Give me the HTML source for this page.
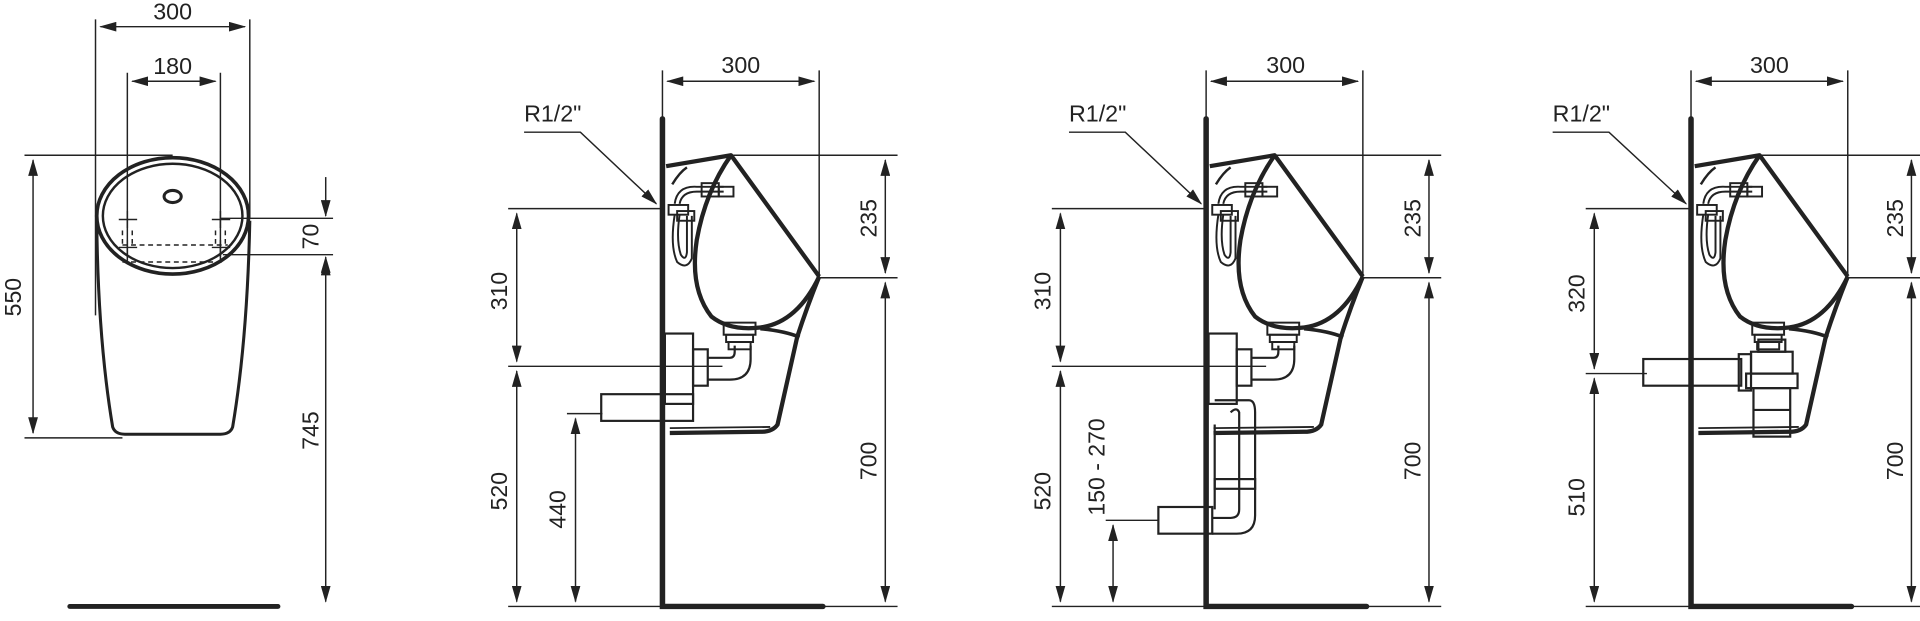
<!DOCTYPE html>
<html><head><meta charset="utf-8"><style>
html,body{margin:0;padding:0;background:#fff;width:1920px;height:621px;overflow:hidden}
svg{display:block}
text{font-family:"Liberation Sans",Arial,sans-serif;font-size:19px;fill:#222}
</style></head><body>
<svg width="1920" height="621" viewBox="0 0 1568 512" preserveAspectRatio="none" xmlns="http://www.w3.org/2000/svg">
<defs>
<marker id="a" markerWidth="14" markerHeight="8" refX="13" refY="4" orient="auto-start-reverse" markerUnits="userSpaceOnUse"><path d="M0,0 L14,4 L0,8 z" fill="#222"/></marker>
<g id="uri">
  <!-- urinal side view, wall at x=0 -->
  <path d="M3,9 L56,0 L128,100" fill="none" stroke="#222" stroke-width="3.5" stroke-linejoin="round"/>
  <path d="M56,0 Q35,30 28,70 Q22,110 40,133 Q55,145 80,142 Q110,138 128,100" fill="none" stroke="#222" stroke-width="3.5"/>
  <path d="M128,100 Q118,125 110,150 L94,222 Q90,228 80,228 L6,229" fill="none" stroke="#222" stroke-width="3.5"/>
  <path d="M80,143 Q100,145 112,150" fill="none" stroke="#222" stroke-width="3"/>
  <path d="M6,225 L88,224" stroke="#222" stroke-width="1.5"/>
  <path d="M8,24 Q14,14 20,10" fill="none" stroke="#222" stroke-width="2"/>
  <!-- valve -->
  <g fill="none" stroke="#222" stroke-width="1.6">
    <path d="M10,40 Q12,25 28,26 L50,26"/><path d="M14,40 Q16,30 28,30 L50,30"/>
    <rect x="32" y="23" width="14" height="11"/><rect x="46" y="26" width="12" height="8"/>
    <rect x="5" y="41" width="16" height="8"/>
    <path d="M10,49 Q6,75 12,88 Q20,95 24,85 L24,50"/><path d="M14,49 Q11,70 15,82 Q19,88 20,80 L20,50"/>
    <rect x="12" y="46" width="14" height="8"/>
  </g>
  <!-- outlet collar -->
  <g fill="none" stroke="#222" stroke-width="1.6">
    <rect x="50" y="138" width="26" height="10"/><rect x="52" y="148" width="22" height="6"/><rect x="54" y="154" width="18" height="6"/>
  </g>
</g>
</defs>

<!-- ===== VIEW 1 ===== -->
<g stroke="#222" fill="none" stroke-width="1.2">
  <path d="M78,16 V260 M204,16 V180 M104,60 V215 M180,60 V215"/>
  <path d="M82,22 H200" marker-start="url(#a)" marker-end="url(#a)"/>
  <path d="M108,67 H176" marker-start="url(#a)" marker-end="url(#a)"/>
  <path d="M20,128 H141 M20,361 H100"/>
  <path d="M27,132 V357" marker-start="url(#a)" marker-end="url(#a)"/>
  <path d="M180,180 H272 M182,210 H272"/>
  <path d="M266,146 V178" marker-end="url(#a)"/>
  <path d="M266,226 V212" marker-end="url(#a)"/>
  <path d="M266,214 V496" marker-start="url(#a)" marker-end="url(#a)"/>
</g>
<text x="141" y="16" text-anchor="middle">300</text>
<text x="141" y="61" text-anchor="middle">180</text>
<text transform="translate(17,245) rotate(-90)" text-anchor="middle">550</text>
<text transform="translate(260,195) rotate(-90)" text-anchor="middle">70</text>
<text transform="translate(260,355) rotate(-90)" text-anchor="middle">745</text>
<ellipse cx="141" cy="178" rx="62" ry="48" fill="none" stroke="#222" stroke-width="3"/>
<ellipse cx="141" cy="178" rx="57" ry="43" fill="none" stroke="#222" stroke-width="2"/>
<path d="M79,182 Q80,280 92,352 Q94,358 102,358 L180,358 Q188,358 190,352 Q202,280 204,182" fill="none" stroke="#222" stroke-width="2.5"/>
<ellipse cx="141" cy="162" rx="7" ry="5" fill="none" stroke="#222" stroke-width="2.5"/>
<g stroke="#222" stroke-width="1.2" fill="none">
  <path d="M97,181 H112 M104,174 V188 M173,181 H188 M180,174 V188"/>
  <path d="M97,204 H112 M104,198 V212 M173,204 H188 M180,198 V212"/>
  <path d="M100,202 H186 M100,216 H184 M100,190 V202 M108,190 V202 M176,190 V202 M184,190 V202" stroke-dasharray="4,3"/>
</g>
<path d="M57,500 H227" stroke="#222" stroke-width="4" stroke-linecap="round"/>

<!-- ===== VIEW 2 ===== -->
<g stroke="#222" fill="none" stroke-width="1.2">
  <path d="M541,58 V98 M669,58 V230"/>
  <path d="M545,67 H665" marker-start="url(#a)" marker-end="url(#a)"/>
  <path d="M428,109 H474 L536,168" marker-end="url(#a)"/>
  <path d="M597,128 H733 M669,229 H733"/>
  <path d="M723,132 V225" marker-start="url(#a)" marker-end="url(#a)"/>
  <path d="M723,233 V496" marker-start="url(#a)" marker-end="url(#a)"/>
  <path d="M415,172 H541 M415,302 H590"/>
  <path d="M422,176 V298" marker-start="url(#a)" marker-end="url(#a)"/>
  <path d="M422,306 V496" marker-start="url(#a)" marker-end="url(#a)"/>
  <path d="M463,341 H492"/>
  <path d="M470,345 V496" marker-start="url(#a)" marker-end="url(#a)"/>
  <path d="M415,500 H541 M672,500 H733"/>
</g>
<text x="605" y="60" text-anchor="middle">300</text>
<text x="428" y="100">R1/2"</text>
<text transform="translate(716,180) rotate(-90)" text-anchor="middle">235</text>
<text transform="translate(716,380) rotate(-90)" text-anchor="middle">700</text>
<text transform="translate(414,240) rotate(-90)" text-anchor="middle">310</text>
<text transform="translate(414,405) rotate(-90)" text-anchor="middle">520</text>
<text transform="translate(462,420) rotate(-90)" text-anchor="middle">440</text>
<path d="M541,98 V500 H672" fill="none" stroke="#222" stroke-width="4.5" stroke-linecap="round"/>
<use href="#uri" x="541" y="128"/>
<g fill="none" stroke="#222" stroke-width="1.8">
  <rect x="543" y="275" width="23" height="58"/><rect x="566" y="288" width="12" height="30"/>
  <rect x="491" y="325" width="75" height="22"/>
  <path d="M578,295 H596 Q600,295 600,290 L600,285 M578,313 H596 Q613,313 613,296 L613,285"/>
</g>

<!-- ===== VIEW 3 ===== -->
<g stroke="#222" fill="none" stroke-width="1.2">
  <path d="M985,58 V98 M1113,58 V230"/>
  <path d="M989,67 H1109" marker-start="url(#a)" marker-end="url(#a)"/>
  <path d="M873,109 H919 L981,168" marker-end="url(#a)"/>
  <path d="M1041,128 H1177 M1113,229 H1177"/>
  <path d="M1167,132 V225" marker-start="url(#a)" marker-end="url(#a)"/>
  <path d="M1167,233 V496" marker-start="url(#a)" marker-end="url(#a)"/>
  <path d="M859,172 H985 M859,302 H1034"/>
  <path d="M866,176 V298" marker-start="url(#a)" marker-end="url(#a)"/>
  <path d="M866,306 V496" marker-start="url(#a)" marker-end="url(#a)"/>
  <path d="M903,429 H946"/>
  <path d="M909,433 V496" marker-start="url(#a)" marker-end="url(#a)"/>
  <path d="M859,500 H985 M1116,500 H1177"/>
</g>
<text x="1050" y="60" text-anchor="middle">300</text>
<text x="873" y="100">R1/2"</text>
<text transform="translate(1160,180) rotate(-90)" text-anchor="middle">235</text>
<text transform="translate(1160,380) rotate(-90)" text-anchor="middle">700</text>
<text transform="translate(858,240) rotate(-90)" text-anchor="middle">310</text>
<text transform="translate(858,405) rotate(-90)" text-anchor="middle">520</text>
<text transform="translate(902,385) rotate(-90)" text-anchor="middle">150 - 270</text>
<path d="M985,98 V500 H1116" fill="none" stroke="#222" stroke-width="4.5" stroke-linecap="round"/>
<use href="#uri" x="985" y="128"/>
<g fill="none" stroke="#222" stroke-width="1.8">
  <rect x="987" y="275" width="23" height="58"/><rect x="1010" y="288" width="12" height="30"/>
  <path d="M1022,295 H1040 Q1044,295 1044,290 L1044,285 M1022,313 H1040 Q1057,313 1057,296 L1057,285"/>
  <path d="M992,330 H1020 Q1025,330 1025,340 L1025,425 Q1025,440 1010,440 L990,440 M1005,340 Q1010,335 1012,340 L1012,420 Q1012,427 1005,427 L990,427 M992,350 V420"/>
  <rect x="992" y="395" width="33" height="8"/>
  <rect x="946" y="418" width="44" height="22"/>
</g>

<!-- ===== VIEW 4 ===== -->
<g stroke="#222" fill="none" stroke-width="1.2">
  <path d="M1381,58 V98 M1509,58 V230"/>
  <path d="M1385,67 H1505" marker-start="url(#a)" marker-end="url(#a)"/>
  <path d="M1268,109 H1314 L1377,168" marker-end="url(#a)"/>
  <path d="M1437,128 H1568 M1509,229 H1568"/>
  <path d="M1561,132 V225" marker-start="url(#a)" marker-end="url(#a)"/>
  <path d="M1561,233 V496" marker-start="url(#a)" marker-end="url(#a)"/>
  <path d="M1295,172 H1381 M1295,308 H1345"/>
  <path d="M1302,176 V304" marker-start="url(#a)" marker-end="url(#a)"/>
  <path d="M1302,312 V496" marker-start="url(#a)" marker-end="url(#a)"/>
  <path d="M1295,500 H1381 M1512,500 H1568"/>
</g>
<text x="1445" y="60" text-anchor="middle">300</text>
<text x="1268" y="100">R1/2"</text>
<text transform="translate(1554,180) rotate(-90)" text-anchor="middle">235</text>
<text transform="translate(1554,380) rotate(-90)" text-anchor="middle">700</text>
<text transform="translate(1294,242) rotate(-90)" text-anchor="middle">320</text>
<text transform="translate(1294,410) rotate(-90)" text-anchor="middle">510</text>
<path d="M1381,98 V500 H1512" fill="none" stroke="#222" stroke-width="4.5" stroke-linecap="round"/>
<use href="#uri" x="1381" y="128"/>
<g fill="none" stroke="#222" stroke-width="1.8">
  <rect x="1342" y="296" width="80" height="22"/>
  <rect x="1420" y="292" width="10" height="30"/>
  <rect x="1430" y="290" width="34" height="18"/>
  <rect x="1426" y="308" width="42" height="12"/>
  <rect x="1432" y="320" width="30" height="40"/>
  <rect x="1436" y="280" width="22" height="10"/>
  <path d="M1432,338 H1462"/>
</g>
</svg>
</body></html>
